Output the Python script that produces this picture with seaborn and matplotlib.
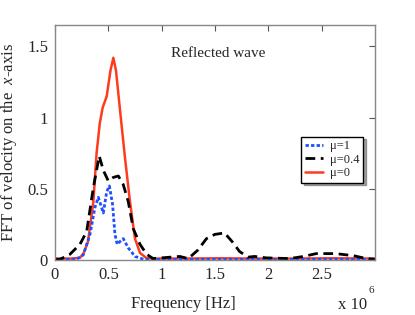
import matplotlib
matplotlib.use("Agg")
import matplotlib.pyplot as plt
import seaborn as sns
import pandas as pd

# frequency in units of 1e6 Hz
freq_mu0 = [0.0, 0.15, 0.234, 0.27, 0.31, 0.36, 0.39, 0.42, 0.447, 0.485, 0.52, 0.547, 0.572,
            0.61, 0.656, 0.703, 0.75, 0.797, 0.86, 0.95, 1.2, 1.55, 1.85, 2.2, 2.6, 3.0]
fft_mu0 = [0.01, 0.01, 0.015, 0.05, 0.13, 0.41, 0.75, 0.96, 1.07, 1.15, 1.33, 1.42, 1.33,
           1.05, 0.72, 0.41, 0.15, 0.05, 0.012, 0.01, 0.01, 0.012, 0.01, 0.01, 0.012, 0.01]

freq_mu04 = [0.0, 0.047, 0.14, 0.234, 0.297, 0.36, 0.415, 0.453, 0.5, 0.547, 0.594, 0.64,
             0.687, 0.734, 0.797, 0.86, 0.92, 1.0, 1.17, 1.25, 1.34, 1.42, 1.5, 1.59, 1.66,
             1.73, 1.81, 1.87, 1.98, 2.2, 2.33, 2.45, 2.63, 2.8, 2.92, 3.0]
fft_mu04 = [0.005, 0.005, 0.04, 0.11, 0.2, 0.51, 0.73, 0.63, 0.555, 0.58, 0.59, 0.53, 0.41,
            0.22, 0.11, 0.04, 0.01, 0.015, 0.025, 0.01, 0.07, 0.15, 0.18, 0.19, 0.13, 0.06,
            0.02, 0.025, 0.015, 0.01, 0.025, 0.045, 0.045, 0.03, 0.01, 0.005]

freq_mu1 = [0.0, 0.2, 0.265, 0.328, 0.375, 0.406, 0.428, 0.453, 0.485, 0.51, 0.54, 0.562,
            0.584, 0.61, 0.64, 0.687, 0.75, 0.83, 1.0, 1.5, 2.0, 2.5, 3.0]
fft_mu1 = [0.005, 0.005, 0.035, 0.18, 0.37, 0.44, 0.39, 0.33, 0.48, 0.52, 0.39, 0.18, 0.11,
           0.13, 0.15, 0.085, 0.025, 0.005, 0.005, 0.005, 0.005, 0.005, 0.005]

x_ticks = [0, 0.5, 1, 1.5, 2, 2.5]
y_ticks = [0, 0.5, 1, 1.5]

sns.set_style("white")
plt.rcParams["font.family"] = ["Liberation Serif", "DejaVu Serif"]
plt.rcParams["mathtext.fontset"] = "custom"
plt.rcParams["mathtext.it"] = "Liberation Serif:italic"
plt.rcParams["mathtext.rm"] = "Liberation Serif"

fig = plt.figure(figsize=(4.15, 3.15), dpi=100)
ax = fig.add_axes([0.1325, 0.1746, 0.771, 0.746])

df1 = pd.DataFrame({"f": freq_mu1, "v": fft_mu1})
df04 = pd.DataFrame({"f": freq_mu04, "v": fft_mu04})
df0 = pd.DataFrame({"f": freq_mu0, "v": fft_mu0})

sns.lineplot(data=df1, x="f", y="v", ax=ax, color="#1f4fff", lw=2, linestyle=(0, (1.2, 0.8)),
             label="μ=1")
sns.lineplot(data=df04, x="f", y="v", ax=ax, color="black", lw=2, linestyle=(0, (3.5, 2)),
             label="μ=0.4")
sns.lineplot(data=df0, x="f", y="v", ax=ax, color="#ff3b1f", lw=1.8, label="μ=0")

# red sits under the dashed lines
ax.lines[2].set_zorder(1.5)

ax.set_xlim(0, 3)
ax.set_ylim(0, 1.65)
ax.set_xticks(x_ticks)
ax.set_xticklabels([f"{t:g}" for t in x_ticks])
ax.set_yticks(y_ticks)
ax.set_yticklabels([f"{t:g}" for t in y_ticks])
ax.tick_params(direction="in", length=4, top=True, right=True, labelsize=12, color="#555555",
               pad=5)
for s in ax.spines.values():
    s.set_color("#888888")
    s.set_linewidth(1)

ax.set_xlabel("Frequency [Hz]", fontsize=12)
ax.xaxis.set_label_coords(0.40, -0.155)
ax.set_ylabel("FFT of velocity on the  $x$-axis", fontsize=12, labelpad=6)
ax.text(0.51, 0.88, "Reflected wave", transform=ax.transAxes, ha="center", va="center",
        fontsize=11)
fig.text(0.815, 0.005, "x 10", fontsize=12, ha="left", va="bottom")
fig.text(0.888, 0.062, "6", fontsize=8, ha="left", va="bottom")

leg = ax.legend(loc="upper left", bbox_to_anchor=(0.77, 0.525), fontsize=9, frameon=True,
                fancybox=False, shadow=True, handlelength=1.4, handletextpad=0.6,
                borderpad=0.3, labelspacing=0.1, borderaxespad=0)
leg.get_frame().set_edgecolor("black")
leg.get_frame().set_linewidth(1)

fig.savefig("out.png", dpi=100)
plt.close(fig)
